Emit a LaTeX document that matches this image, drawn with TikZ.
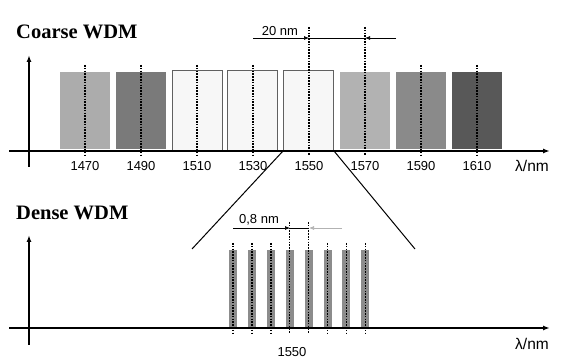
\documentclass[tikz,border=0pt]{standalone}
\usepackage{fontspec}
\setmainfont{Liberation Sans}
\newfontfamily\titlefont{Liberation Serif}
\usetikzlibrary{arrows.meta}

\definecolor{chanA}{RGB}{172,172,172}
\definecolor{chanB}{RGB}{122,122,122}
\definecolor{chanF}{RGB}{178,178,178}
\definecolor{chanG}{RGB}{138,138,138}
\definecolor{chanH}{RGB}{88,88,88}
\definecolor{chanD}{RGB}{140,140,140}

\tikzset{
  axis/.style={line width=1.8pt,-{Latex[length=7pt,width=5pt]}},
  chan/.style={line width=1.8pt,dash pattern=on 1.6pt off 1.2pt},
  openbox/.style={draw=gray!75!black,fill=gray!6,line width=0.8pt},
  dimline/.style={line width=0.7pt},
  dimarrow/.style={dimline,-{Latex[length=5pt,width=4pt]}},
  zoomline/.style={line width=1pt},
  lbl/.style={font=\fontsize{13}{15}\selectfont,inner sep=0pt},
  unit/.style={font=\fontsize{15.5}{17}\selectfont,inner sep=0pt},
  title/.style={font=\titlefont\bfseries\fontsize{20.5}{24}\selectfont,anchor=west,inner sep=0pt}
}

\begin{document}
\begin{tikzpicture}[x=1pt,y=-1pt]
\useasboundingbox (0,0) rectangle (571,363);

% Coarse WDM
\node[title] (coarse) at (16,32) {Coarse WDM};
\foreach \x/\c in {60/chanA,116/chanB,340/chanF,396/chanG,452/chanH}
  \fill[\c] (\x,72) rectangle ++(50,77);
\foreach \x in {172,227,283}
  \draw[openbox] (\x,70) rectangle ++(50,81);
\coordinate (cx0) at (9,151);
\coordinate (cx1) at (550,151);
\coordinate (cy0) at (29,167);
\coordinate (cy1) at (29,55);
\draw[axis] (cx0) -- (cx1);
\draw[axis] (cy0) -- (cy1);
\foreach \x/\wl in {85/1470,141/1490,197/1510,253/1530,421/1590,477/1610}{
  \draw[chan] (\x,65) -- (\x,155);
  \node[lbl] (c\wl) at (\x,166) {\wl};
}
\foreach \x/\wl in {309/1550,365/1570}{
  \draw[chan] (\x,27) -- (\x,155);
  \node[lbl] (c\wl) at (\x,166) {\wl};
}
\node[unit] (cunit) at (532,166) {λ/nm};

% 20 nm spacing
\coordinate (ca) at (253,38);
\coordinate (cb) at (309,38);
\coordinate (cc) at (365,38);
\coordinate (cd) at (396,38);
\draw[dimarrow] (ca) -- (cb);
\draw[dimline] (cb) -- (cc);
\draw[dimarrow] (cd) -- (cc);
\node[lbl] (cspace) at (280,31) {20 nm};

% zoom onto 1550
\coordinate (zl0) at (283,151);
\coordinate (zl1) at (192,249);
\coordinate (zr0) at (334,151);
\coordinate (zr1) at (415,249);
\draw[zoomline] (zl0) -- (zl1);
\draw[zoomline] (zr0) -- (zr1);

% Dense WDM
\node[title] (dense) at (16,213) {Dense WDM};
\foreach \i in {0,...,7}
  \fill[chanD] ({233+18.9*\i-4},250) rectangle ++(8,78);
\coordinate (dx0) at (9,328);
\coordinate (dx1) at (550,328);
\coordinate (dy0) at (29,345);
\coordinate (dy1) at (29,235);
\draw[axis] (dx0) -- (dx1);
\draw[axis] (dy0) -- (dy1);
\foreach \i in {0,1,2,5,6,7}
  \draw[chan,line width=1.4pt] ({233+18.9*\i},243) -- ({233+18.9*\i},333);
\foreach \i in {3,4}
  \draw[chan,line width=1.4pt] ({233+18.9*\i},222) -- ({233+18.9*\i},333);
\node[lbl] (d1550) at (292,352) {1550};
\node[unit] (dunit) at (532,344) {λ/nm};

% 0,8 nm spacing
\coordinate (da) at (233,228);
\coordinate (db) at (290,228);
\coordinate (dc) at (309,228);
\coordinate (dd) at (342,228);
\draw[dimarrow] (da) -- (db);
\draw[dimline] (db) -- (dc);
\draw[dimarrow,draw=gray!60] (dd) -- (dc);
\node[lbl] (dspace) at (259,220) {0,8 nm};
\end{tikzpicture}
\end{document}
